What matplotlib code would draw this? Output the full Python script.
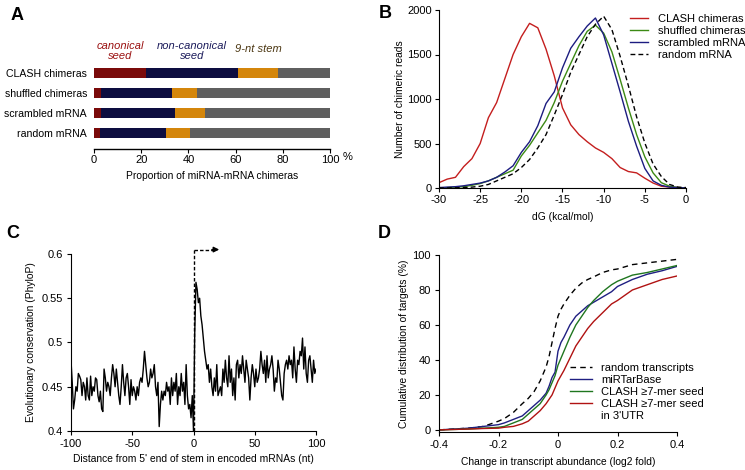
import matplotlib
matplotlib.use("Agg")
import matplotlib.pyplot as plt
import numpy as np

plt.rcParams['font.family'] = ['Liberation Sans', 'DejaVu Sans']
plt.rcParams['axes.unicode_minus'] = False
plt.rcParams['font.size'] = 7.8

TICK_FS = 8.0
LAB_FS = 7.4

# ---------------- Panel A data ----------------
a_categories = ["CLASH chimeras", "shuffled chimeras", "scrambled mRNA", "random mRNA"]
a_canonical = [22.0, 3.0, 3.0, 2.5]
a_noncanonical = [39.0, 30.0, 31.5, 28.0]
a_stem9 = [17.0, 10.5, 12.5, 10.0]
a_other = [22.0, 56.5, 53.0, 59.5]
a_ticks = [0, 20, 40, 60, 80, 100]

# ---------------- Panel B data ----------------
b_dg = [-30, -29, -28, -27, -26, -25, -24, -23, -22, -21, -20, -19, -18, -17, -16,
        -15, -14, -13, -12, -11, -10, -9, -8, -7, -6, -5, -4, -3, -2, -1, 0]
b_clash = [60, 100, 120, 240, 330, 500, 790, 960, 1230, 1500, 1700, 1850, 1800, 1560, 1260,
           900, 710, 600, 520, 450, 400, 330, 230, 185, 170, 110, 56, 20, 10, 5, 0]
b_shuffled = [0, 5, 10, 15, 30, 50, 80, 120, 160, 200, 360, 480, 620, 760, 960,
              1200, 1400, 1600, 1760, 1830, 1740, 1530, 1220, 900, 600, 350, 170, 60, 20, 5, 0]
b_scrambled = [5, 10, 15, 25, 40, 55, 80, 120, 180, 250, 400, 520, 700, 950, 1080,
               1350, 1570, 1700, 1820, 1910, 1720, 1400, 1080, 750, 470, 220, 80, 30, 10, 5, 0]
b_random = [0, 0, 2, 5, 10, 20, 40, 80, 120, 160, 230, 320, 450, 600, 820,
            1050, 1300, 1500, 1700, 1840, 1930, 1780, 1480, 1150, 800, 505, 270, 130, 40, 10, 5]

# ---------------- Panel C data ----------------
c_pos = list(range(-100, 101))
c_phylop = [
    0.480, 0.455, 0.425, 0.435, 0.450, 0.445, 0.465, 0.462, 0.458, 0.440,
    0.455, 0.450, 0.435, 0.460, 0.440, 0.435, 0.462, 0.440, 0.450, 0.445,
    0.460, 0.458, 0.440, 0.433, 0.445, 0.425, 0.422, 0.470, 0.460, 0.445,
    0.455, 0.450, 0.440, 0.460, 0.475, 0.465, 0.450, 0.470, 0.455, 0.440,
    0.430, 0.450, 0.475, 0.455, 0.440, 0.460, 0.465, 0.450, 0.430, 0.458,
    0.440, 0.450, 0.445, 0.435, 0.450, 0.440, 0.455, 0.460, 0.455, 0.470,
    0.490, 0.475, 0.460, 0.450, 0.455, 0.470, 0.460, 0.465, 0.475, 0.450,
    0.440, 0.455, 0.405, 0.430, 0.445, 0.435, 0.445, 0.440, 0.455, 0.445,
    0.450, 0.430, 0.460, 0.440, 0.455, 0.445, 0.465, 0.430, 0.450, 0.440,
    0.465, 0.445, 0.455, 0.430, 0.475, 0.440, 0.425, 0.430, 0.415, 0.440,
    0.400,
    0.510, 0.568, 0.560, 0.545, 0.550, 0.530, 0.520, 0.505, 0.490, 0.480,
    0.470, 0.475, 0.455, 0.470, 0.450, 0.440, 0.460, 0.445, 0.475, 0.440,
    0.445, 0.450, 0.440, 0.470, 0.455, 0.480, 0.460, 0.450, 0.485, 0.455,
    0.470, 0.440, 0.460, 0.435, 0.475, 0.480, 0.460, 0.475, 0.465, 0.485,
    0.470, 0.455, 0.480, 0.470, 0.460, 0.435, 0.460, 0.475, 0.465, 0.450,
    0.470, 0.455, 0.460, 0.470, 0.490, 0.475, 0.465, 0.480, 0.455, 0.485,
    0.460, 0.470, 0.475, 0.485, 0.470, 0.445, 0.460, 0.455, 0.480, 0.470,
    0.455, 0.440, 0.435, 0.465, 0.475, 0.480, 0.470, 0.485, 0.475, 0.480,
    0.460, 0.495, 0.470, 0.455, 0.480, 0.475, 0.490, 0.485, 0.505, 0.470,
    0.495, 0.465, 0.455, 0.480, 0.485, 0.470, 0.455, 0.480, 0.465, 0.470]

# ---------------- Panel D data ----------------
d_x = [-0.40, -0.30, -0.25, -0.20, -0.18, -0.15, -0.12, -0.10, -0.08, -0.06, -0.05,
       -0.04, -0.03, -0.02, -0.01, 0.00, 0.01, 0.02, 0.04, 0.06, 0.08, 0.10, 0.12,
       0.15, 0.18, 0.20, 0.25, 0.30, 0.35, 0.40]
d_random = [0, 1, 2, 5, 6.5, 10, 15, 18, 22, 28, 32,
            36, 42, 50, 58, 65, 69, 72, 77, 81, 84, 86, 87.5,
            90, 91.5, 92, 94.5, 95.5, 96.5, 97.5]
d_mirtarbase = [0, 1, 2, 3, 4, 6, 8, 11, 14, 17, 19,
                21, 25, 30, 33, 45, 50, 53, 60, 65, 68, 71, 73,
                76, 79, 82, 86, 89, 91, 93.5]
d_clash7 = [0, 0.5, 1, 1.5, 2, 4, 6, 9, 12, 15, 17.5,
            20, 23, 27, 31, 37, 41, 45, 53, 60, 65, 70, 74,
            79, 83, 85, 88.5, 90, 92, 94]
d_clash7utr = [0, 0.5, 0.8, 1, 1.5, 2, 3.5, 5, 8, 11, 13,
               15, 17.5, 20, 24, 28, 31, 34, 41, 48, 53, 58, 62,
               67, 72, 74, 80, 83, 86, 88]

W, H = 745, 470
fig = plt.figure(figsize=(W / 100, H / 100), dpi=100)


def rect(x0, y0, x1, y1):
    return [x0 / W, 1 - y1 / H, (x1 - x0) / W, (y1 - y0) / H]


# ================= Panel A =================
axA = fig.add_axes(rect(94, 55, 330, 149))
ypos = np.arange(len(a_categories))
colors_a = ['#7a0a0a', '#0d0d40', '#d4860b', '#5f5f5f']
left = np.zeros(len(a_categories))
for vals, col in zip([a_canonical, a_noncanonical, a_stem9, a_other], colors_a):
    axA.barh(ypos, vals, left=left, height=0.5, color=col, edgecolor='none')
    left = left + np.array(vals)
axA.set_ylim(3.8, -0.9)
axA.set_xlim(0, 100)
axA.set_yticks(ypos)
axA.set_yticklabels(a_categories, fontsize=7.6)
axA.tick_params(axis='y', length=0, pad=5)
axA.set_xticks(a_ticks)
axA.set_xticklabels([str(t) for t in a_ticks], fontsize=TICK_FS)
axA.tick_params(axis='x', direction='out', length=3, width=0.8, pad=1.5)
axA.text(1.055, -0.035, '%', transform=axA.transAxes, ha='left', va='top', fontsize=TICK_FS)
for s in ['top', 'right', 'left']:
    axA.spines[s].set_visible(False)
axA.spines['bottom'].set_linewidth(1.0)
axA.set_xlabel('Proportion of miRNA-mRNA chimeras', fontsize=LAB_FS, labelpad=4)
axA.text(11.0, -1.1, 'canonical\nseed', color='#9a1010', style='italic', ha='center',
         va='center', fontsize=8.0, linespacing=1.05)
axA.text(41.5, -1.1, 'non-canonical\nseed', color='#1a1a5a', style='italic', ha='center',
         va='center', fontsize=8.0, linespacing=1.05)
axA.text(69.7, -1.2, '9-nt stem', color='#4a3510', style='italic', ha='center',
         va='center', fontsize=8.0)

# ================= Panel B =================
axB = fig.add_axes(rect(439, 10, 686, 188))
axB.plot(b_dg, b_clash, color='#c41e1e', lw=1.0, label='CLASH chimeras')
axB.plot(b_dg, b_shuffled, color='#3c8a14', lw=1.0, label='shuffled chimeras')
axB.plot(b_dg, b_scrambled, color='#1c1c80', lw=1.0, label='scrambled mRNA')
axB.plot(b_dg, b_random, color='black', lw=1.0, ls=(0, (3.5, 2.2)), label='random mRNA')
axB.set_xlim(-30, 0)
axB.set_ylim(0, 2000)
axB.set_xticks([-30, -25, -20, -15, -10, -5, 0])
axB.set_yticks([0, 500, 1000, 1500, 2000])
for s in ['top', 'right']:
    axB.spines[s].set_visible(False)
axB.tick_params(direction='out', length=3, width=0.8, labelsize=TICK_FS, pad=2)
axB.set_xlabel('dG (kcal/mol)', fontsize=LAB_FS, labelpad=5)
axB.set_ylabel('Number of chimeric reads', fontsize=LAB_FS, labelpad=2)
axB.legend(loc='upper left', bbox_to_anchor=(630 / W, 1 - 14 / H),
           bbox_transform=fig.transFigure, frameon=False, fontsize=TICK_FS,
           handlelength=1.6, handletextpad=0.9, labelspacing=0.17, borderpad=0,
           borderaxespad=0)

# ================= Panel C =================
axC = fig.add_axes(rect(71, 254, 316, 431))
axC.plot(c_pos, c_phylop, color='black', lw=1.0)
axC.set_xlim(-100, 100)
axC.set_ylim(0.4, 0.6)
axC.plot([0, 0], [0.4, 0.605], color='black', lw=1.0, ls=(0, (2.5, 1.5)), clip_on=False)
axC.plot([0, 16], [0.605, 0.605], color='black', lw=1.0, ls=(0, (2.5, 1.5)), clip_on=False)
axC.annotate('', xy=(21, 0.605), xytext=(15, 0.605),
             arrowprops=dict(arrowstyle='-|>', color='black', lw=1.0,
                             mutation_scale=8, shrinkA=0, shrinkB=0),
             annotation_clip=False)
axC.set_xticks([-100, -50, 0, 50, 100])
axC.set_yticks([0.4, 0.45, 0.5, 0.55, 0.6])
axC.set_yticklabels(['0.4', '0.45', '0.5', '0.55', '0.6'])
for s in ['top', 'right']:
    axC.spines[s].set_visible(False)
axC.tick_params(direction='out', length=3, width=0.8, labelsize=TICK_FS, pad=3)
axC.set_xlabel("Distance from 5' end of stem in encoded mRNAs (nt)", fontsize=LAB_FS, labelpad=3)
axC.set_ylabel('Evolutionary conservation (PhyloP)', fontsize=LAB_FS, labelpad=4)

# ================= Panel D =================
axD = fig.add_axes(rect(439, 255, 677, 432))
axD.plot(d_x, d_random, color='black', lw=1.0, ls=(0, (4, 3)), label='random transcripts')
axD.plot(d_x, d_mirtarbase, color='#1f1f82', lw=1.0, label='miRTarBase')
axD.plot(d_x, d_clash7, color='#1f761f', lw=1.0, label='CLASH \u22657-mer seed')
axD.plot(d_x, d_clash7utr, color='#b01212', lw=1.0, label='CLASH \u22657-mer seed')
axD.plot([], [], color='none', label="in 3'UTR")
axD.set_xlim(-0.4, 0.4)
axD.set_ylim(-1.2, 100)
axD.set_xticks([-0.4, -0.2, 0, 0.2, 0.4])
axD.set_xticklabels(['-0.4', '-0.2', '0', '0.2', '0.4'])
axD.set_yticks([0, 20, 40, 60, 80, 100])
for s in ['top', 'right']:
    axD.spines[s].set_visible(False)
axD.tick_params(direction='out', length=3, width=0.8, labelsize=TICK_FS, pad=3)
axD.set_xlabel('Change in transcript abundance (log2 fold)', fontsize=LAB_FS, labelpad=5)
axD.set_ylabel('Cumulative distribution of targets (%)', fontsize=LAB_FS, labelpad=2)
axD.legend(loc='upper left', bbox_to_anchor=(570 / W, 1 - 363 / H),
           bbox_transform=fig.transFigure, frameon=False, fontsize=TICK_FS,
           handlelength=2.0, handletextpad=0.8, labelspacing=0.17, borderpad=0,
           borderaxespad=0)

# ================= Panel letters =================
for lab, x, y in [('A', 17, 15), ('B', 385, 13), ('C', 13, 233), ('D', 384, 233)]:
    fig.text(x / W, 1 - y / H, lab, fontsize=13, fontweight='bold', ha='center', va='center')

fig.savefig('out.png', dpi=100)
